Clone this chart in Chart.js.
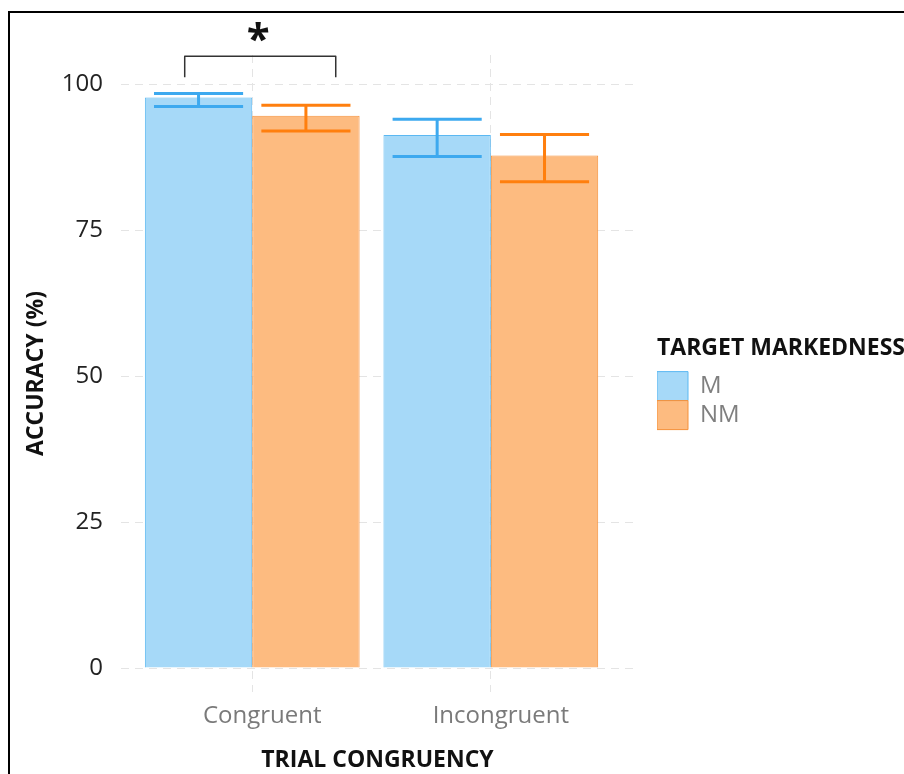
<!DOCTYPE html>
<html>
<head>
<meta charset="utf-8">
<title>Accuracy by trial congruency</title>
<script src="https://cdn.jsdelivr.net/npm/chart.js@4"></script>
<style>
  html, body { margin:0; padding:0; background:#fff; }
  #wrap { position:relative; width:904px; height:774px; overflow:hidden; }
  #frame { position:absolute; left:8px; top:11px; width:1000px; height:1000px; border:2px solid #000; pointer-events:none; }
  canvas { position:absolute; left:0; top:0; }
</style>
</head>
<body>
<div id="wrap">
  <canvas id="chart" width="904" height="774"></canvas>
  <div id="frame"></div>
</div>
<script>
// ---- data ----
const categories = ['Congruent', 'Incongruent'];
const seriesNames = ['M', 'NM'];
const mValues  = [97.7, 91.3];
const nmValues = [94.6, 87.8];
const mLow   = [96.2, 87.6];
const mHigh  = [98.4, 94.0];
const nmLow  = [92.0, 83.3];
const nmHigh = [96.4, 91.4];
const yTicks = [0, 25, 50, 75, 100];
// significance bracket over Congruent (x in category units, y in %)
const sigBracket = { from: 0.717, to: 1.35, top: 104.8, tip: 101.2, starX: 1.025, starY: 109, label: '*' };

Chart.defaults.font.family = "'Open Sans', 'Noto Sans', sans-serif";

// error bars drawn from the low/high arrays through the y scale
const errorBars = {
  id: 'errorBars',
  afterDatasetsDraw(chart) {
    const ctx = chart.ctx, y = chart.scales.y;
    chart.data.datasets.forEach((ds, i) => {
      chart.getDatasetMeta(i).data.forEach((bar, j) => {
        const lo = y.getPixelForValue(ds.errLow[j]);
        const hi = y.getPixelForValue(ds.errHigh[j]);
        const half = bar.width * 0.415;
        ctx.save();
        ctx.strokeStyle = ds.errColor;
        ctx.lineWidth = 3;
        ctx.beginPath();
        ctx.moveTo(bar.x, lo); ctx.lineTo(bar.x, hi);
        ctx.moveTo(bar.x - half, lo); ctx.lineTo(bar.x + half, lo);
        ctx.moveTo(bar.x - half, hi); ctx.lineTo(bar.x + half, hi);
        ctx.stroke();
        ctx.restore();
      });
    });
  }
};

// bracket + star
const sigMark = {
  id: 'sigMark',
  afterLayout(chart) {
    // let the legend title run off the right edge like the original
    if (chart.legend) chart.legend.right = chart.width;
  },
  afterDraw(chart) {
    const ctx = chart.ctx, x = chart.scales.x, y = chart.scales.y;
    const x1 = x.getPixelForValue(sigBracket.from), x2 = x.getPixelForValue(sigBracket.to);
    const yt = y.getPixelForValue(sigBracket.top), yb = y.getPixelForValue(sigBracket.tip);
    ctx.save();
    ctx.strokeStyle = '#333';
    ctx.lineWidth = 1.5;
    ctx.lineJoin = 'round';
    ctx.beginPath();
    ctx.moveTo(x1, yb); ctx.lineTo(x1, yt); ctx.lineTo(x2, yt); ctx.lineTo(x2, yb);
    ctx.stroke();
    const size = 42;
    ctx.fillStyle = '#111';
    ctx.font = 'bold ' + size + "px 'Open Sans', sans-serif";
    ctx.textAlign = 'center';
    ctx.textBaseline = 'alphabetic';
    ctx.fillText(sigBracket.label, x.getPixelForValue(sigBracket.starX), y.getPixelForValue(sigBracket.starY) + 0.5 * size);
    ctx.restore();
  }
};

new Chart(document.getElementById('chart'), {
  type: 'bar',
  data: {
    datasets: [
      {
        label: seriesNames[0],
        data: categories.map((c, i) => ({ x: i + 1, y: mValues[i] })),
        backgroundColor: '#a6d9f8', borderColor: '#5bb8f2', borderWidth: 1,
        errLow: mLow, errHigh: mHigh, errColor: '#3da9ef'
      },
      {
        label: seriesNames[1],
        data: categories.map((c, i) => ({ x: i + 1, y: nmValues[i] })),
        backgroundColor: '#fdbb80', borderColor: '#f5913a', borderWidth: 1,
        errLow: nmLow, errHigh: nmHigh, errColor: '#ff7f0e'
      }
    ]
  },
  options: {
    responsive: false,
    animation: false,
    layout: { padding: { top: 55, right: 167, bottom: 0, left: 0 } },
    datasets: { bar: { categoryPercentage: 0.9, barPercentage: 1 } },
    scales: {
      x: {
        type: 'linear', min: 0.45, max: 2.6, offset: false,
        afterBuildTicks: s => { s.ticks = categories.map((c, i) => ({ value: i + 1 })); },
        afterFit: s => { s.height = 82; },
        grid: { color: '#e4e4e4', drawTicks: false, offset: false },
        border: { display: false, dash: [8, 6] },
        ticks: { callback: v => categories[v - 1], color: '#7a7a7a', font: { size: 24 }, padding: 10, labelOffset: 10, maxRotation: 0 },
        title: { display: true, text: 'TRIAL CONGRUENCY', color: '#111', font: { size: 23, weight: 'bold' }, padding: 0 }
      },
      y: {
        min: -4.1, max: 105,
        afterBuildTicks: s => { s.ticks = yTicks.map(v => ({ value: v })); },
        afterFit: s => { s.width = 121; },
        grid: { color: '#e4e4e4', drawTicks: false },
        border: { display: false, dash: [8, 6] },
        ticks: { color: '#222', font: { size: 24 }, padding: 18 },
        title: { display: true, text: 'ACCURACY (%)', color: '#111', font: { size: 23, weight: 'bold' }, padding: { top: 23, bottom: 0 } }
      },
      yRight: {
        position: 'right', min: 0, max: 1,
        afterFit: s => { s.width = 23; },
        grid: { display: false, drawTicks: false },
        border: { display: false },
        ticks: { display: false }
      }
    },
    plugins: {
      legend: {
        position: 'right', align: 'start', maxWidth: 80,
        title: { display: true, text: 'TARGET MARKEDNESS', position: 'start', color: '#111', font: { size: 23, weight: 'bold' }, padding: { top: 282, bottom: 7 } },
        labels: { boxWidth: 31, boxHeight: 29, padding: 0, color: '#7f7f7f', font: { size: 24 } }
      },
      tooltip: { enabled: false }
    }
  },
  plugins: [errorBars, sigMark]
});
</script>
</body>
</html>
